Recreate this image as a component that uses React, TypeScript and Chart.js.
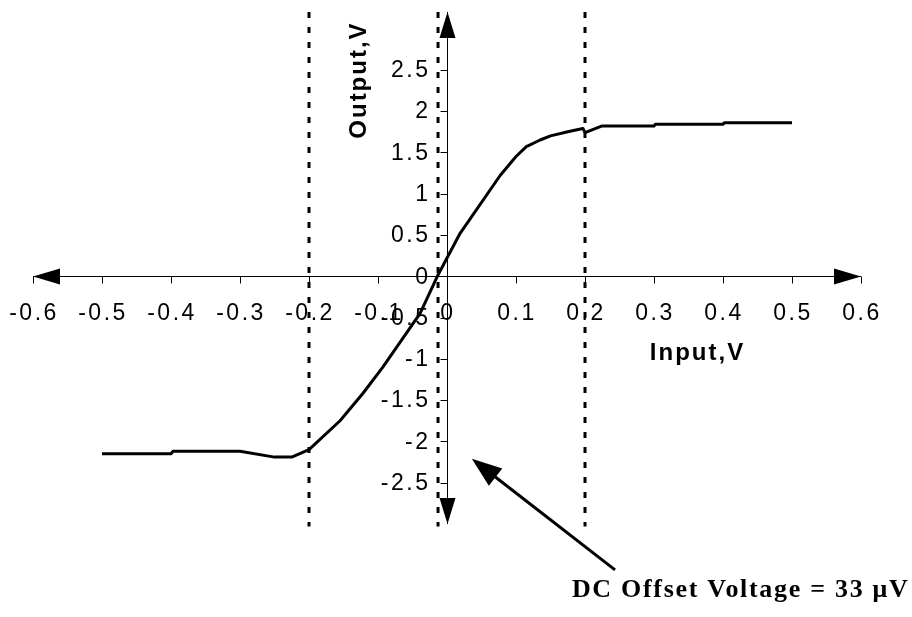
import { useEffect, useRef } from "react";
import { Chart, registerables } from "chart.js";

Chart.register(...registerables);

// Transfer curve: input voltage (V) vs output voltage (V)
const inputV = [
  -0.5, -0.4, -0.397, -0.3, -0.25, -0.225, -0.2, -0.155, -0.122, -0.093, -0.039,
  -0.014, 0.019, 0.077, 0.1, 0.115, 0.135, 0.15, 0.175, 0.197, 0.2, 0.225, 0.3,
  0.302, 0.4, 0.402, 0.5,
];
const outputV = [
  -2.15, -2.15, -2.12, -2.12, -2.19, -2.19, -2.1, -1.75, -1.42, -1.1, -0.45,
  0, 0.52, 1.22, 1.45, 1.57, 1.65, 1.7, 1.75, 1.79, 1.74, 1.82, 1.82,
  1.84, 1.84, 1.86, 1.86,
];

// Dotted guide lines
const markerX = [-0.2, -0.013, 0.2];
const markerSpan = [3.2, -3.03];

// Axis ranges and tick labels
const X_MIN = -0.6;
const X_MAX = 0.6;
const Y_MIN = -3;
const Y_MAX = 3.2;
const xTicks = [-0.6, -0.5, -0.4, -0.3, -0.2, -0.1, 0, 0.1, 0.2, 0.3, 0.4, 0.5, 0.6];
const yTicks = [-2.5, -2, -1.5, -1, -0.5, 0, 0.5, 1, 1.5, 2, 2.5];

// Annotation (data coordinates)
const noteText = "DC Offset Voltage = 33 \u03bcV";
const noteAt = [0.181, -3.88];
const arrowTail = [0.2435, -3.555];
const arrowTip = [0.036, -2.21];

const xTitle = "Input,V";
const xTitleAt = [0.294, -1.02];
const yTitle = "Output,V";
const yTitleAt = [-0.118, 2.376];

const TICK_FONT = '23px "Liberation Sans", Arial, sans-serif';
const TITLE_FONT = 'bold 24px "Liberation Sans", Arial, sans-serif';
const NOTE_FONT = 'bold 26px "Liberation Serif", "Times New Roman", serif';

function head(ctx: CanvasRenderingContext2D, tx: number, ty: number, fx: number, fy: number, len: number, half: number) {
  const dx = tx - fx;
  const dy = ty - fy;
  const d = Math.hypot(dx, dy) || 1;
  const ux = dx / d;
  const uy = dy / d;
  const bx = tx - ux * len;
  const by = ty - uy * len;
  ctx.beginPath();
  ctx.moveTo(tx, ty);
  ctx.lineTo(bx - uy * half, by + ux * half);
  ctx.lineTo(bx + uy * half, by - ux * half);
  ctx.closePath();
  ctx.fill();
}

const crossAxes = {
  id: "crossAxes",
  beforeDatasetsDraw(chart: any) {
    const { ctx } = chart;
    const xs = chart.scales.x;
    const ys = chart.scales.y;
    const px = (v: number) => xs.getPixelForValue(v);
    const py = (v: number) => ys.getPixelForValue(v);
    const x0 = Math.round(px(0)) + 0.5;
    const y0 = Math.round(py(0)) + 0.5;
    const xl = px(X_MIN);
    const xr = px(X_MAX);
    const yt = py(Y_MAX);
    const yb = py(Y_MIN);

    ctx.save();
    ctx.strokeStyle = "#000";
    ctx.fillStyle = "#000";
    ctx.lineWidth = 1;

    // axis lines
    ctx.beginPath();
    ctx.moveTo(xl, y0);
    ctx.lineTo(xr, y0);
    ctx.moveTo(x0, yt);
    ctx.lineTo(x0, yb);
    ctx.stroke();

    // tick marks
    ctx.beginPath();
    xTicks.forEach((t) => {
      const x = Math.round(px(t)) + 0.5;
      ctx.moveTo(x, y0);
      ctx.lineTo(x, y0 + 7);
    });
    yTicks.forEach((t) => {
      const y = Math.round(py(t)) + 0.5;
      ctx.moveTo(x0, y);
      ctx.lineTo(x0 - 7, y);
    });
    ctx.stroke();

    // arrowheads at axis ends
    head(ctx, xl, y0, xl + 10, y0, 27, 8);
    head(ctx, xr, y0, xr - 10, y0, 27, 8);
    head(ctx, x0, yt, x0, yt + 10, 26, 8);
    head(ctx, x0, yb, x0, yb - 10, 26, 8);

    // tick labels
    ctx.font = TICK_FONT;
    (ctx as any).letterSpacing = "2.5px";
    ctx.textBaseline = "middle";
    ctx.textAlign = "center";
    xTicks.forEach((t) => {
      ctx.fillText(String(t), px(t) + 1, y0 + 37);
    });
    ctx.textAlign = "right";
    yTicks.forEach((t) => {
      ctx.fillText(String(t), x0 - 17, py(t) + 1);
    });
    ctx.restore();
  },
  afterDraw(chart: any) {
    const { ctx } = chart;
    const xs = chart.scales.x;
    const ys = chart.scales.y;
    const px = (v: number) => xs.getPixelForValue(v);
    const py = (v: number) => ys.getPixelForValue(v);

    ctx.save();
    ctx.fillStyle = "#000";
    ctx.strokeStyle = "#000";

    // axis titles
    ctx.font = TITLE_FONT;
    (ctx as any).letterSpacing = "2px";
    ctx.textBaseline = "alphabetic";
    ctx.textAlign = "left";
    ctx.fillText(xTitle, px(xTitleAt[0]), py(xTitleAt[1]));
    ctx.save();
    ctx.translate(px(yTitleAt[0]), py(yTitleAt[1]));
    ctx.rotate(-Math.PI / 2);
    ctx.textAlign = "center";
    ctx.fillText(yTitle, 0, 0);
    ctx.restore();

    // offset annotation arrow
    const tx = px(arrowTip[0]);
    const ty = py(arrowTip[1]);
    const fx = px(arrowTail[0]);
    const fy = py(arrowTail[1]);
    const d = Math.hypot(tx - fx, ty - fy);
    ctx.lineWidth = 3;
    ctx.beginPath();
    ctx.moveTo(fx, fy);
    ctx.lineTo(tx - ((tx - fx) / d) * 20, ty - ((ty - fy) / d) * 20);
    ctx.stroke();
    head(ctx, tx, ty, fx, fy, 30, 11);

    // annotation text
    ctx.font = NOTE_FONT;
    (ctx as any).letterSpacing = "1.7px";
    ctx.textAlign = "left";
    ctx.fillText(noteText, px(noteAt[0]), py(noteAt[1]));
    ctx.restore();
  },
};

export default function App() {
  const ref = useRef<HTMLCanvasElement | null>(null);

  useEffect(() => {
    document.body.style.margin = "0";
    const canvas = ref.current;
    if (!canvas) return;

    const curve = inputV.map((x, i) => ({ x, y: outputV[i] }));
    const markers = markerX.map((x) => ({
      data: markerSpan.map((y) => ({ x, y })),
      showLine: true,
      borderColor: "#000",
      borderWidth: 3,
      borderDash: [6, 9],
      pointRadius: 0,
      clip: false as any,
    }));

    const chart = new Chart(canvas, {
      type: "scatter",
      data: {
        datasets: [
          ...markers,
          {
            data: curve,
            showLine: true,
            borderColor: "#000",
            borderWidth: 3,
            pointRadius: 0,
            tension: 0,
            borderJoinStyle: "round",
          } as any,
        ],
      },
      options: {
        responsive: false,
        animation: false,
        devicePixelRatio: 1,
        layout: { padding: { left: 33, right: 51, top: 12, bottom: 93 } },
        plugins: { legend: { display: false }, tooltip: { enabled: false } },
        scales: {
          x: { type: "linear", min: X_MIN, max: X_MAX, display: false },
          y: { type: "linear", min: Y_MIN, max: Y_MAX, display: false },
        },
      },
      plugins: [crossAxes],
    });

    return () => chart.destroy();
  }, []);

  return (
    <div style={{ width: 912, height: 617, background: "#fff" }}>
      <canvas ref={ref} width={912} height={617} style={{ display: "block" }} />
    </div>
  );
}
